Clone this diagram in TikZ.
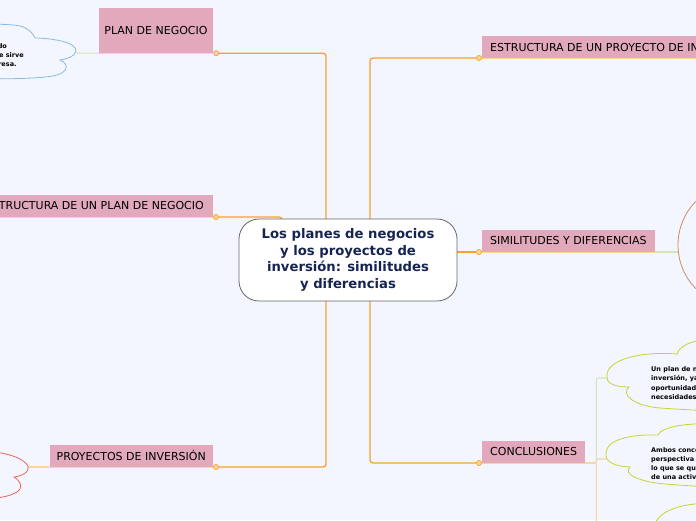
\documentclass[tikz,border=0pt]{standalone}
\usepackage{fontspec}
\setmainfont{DejaVu Sans}
\definecolor{fondo}{RGB}{243,246,254}
\definecolor{rosa}{RGB}{226,169,189}
\definecolor{naranja}{RGB}{248,163,40}
\definecolor{naranjaclaro}{RGB}{252,212,160}
\definecolor{verdeclaro}{RGB}{213,228,185}
\definecolor{azultitulo}{RGB}{22,36,82}
\definecolor{nubeazul}{RGB}{140,185,225}
\definecolor{nuberoja}{RGB}{232,102,90}
\definecolor{nubeverde}{RGB}{196,212,50}
\definecolor{marron}{RGB}{205,140,100}
\pgfdeclarelayer{back}
\pgfsetlayers{back,main}
\begin{document}
\begin{tikzpicture}[x=1pt,y=-1pt,
 tema/.style={fill=rosa,text=black,font=\fontsize{11}{13}\selectfont,inner xsep=8pt,inner ysep=0pt,minimum height=22pt},
 rama/.style={draw=naranja,line width=1.3pt,rounded corners=3pt},
 sub/.style={line width=1.1pt,rounded corners=2pt},
 raya/.style={draw=naranjaclaro,line width=.9pt},
 punto/.style={circle,draw=naranja,fill=naranja!45,line width=.8pt,inner sep=0pt,minimum size=5pt},
 nube/.style={fill=fondo,line width=.8pt},
 nubetexto/.style={font=\bfseries\fontsize{6.5}{9.2}\selectfont,align=left,inner sep=0pt}]
 \useasboundingbox (0,0) rectangle (696,520);
 % idea central
 \node[draw=black!60,fill=white,line width=.8pt,rounded corners=20pt,minimum width=218pt,minimum height=82pt,align=center,text=azultitulo,font=\bfseries\fontsize{13.2}{16.7}\selectfont] (c) at (348,260) {Los planes de negocios\\y los proyectos de\\inversión: similitudes\\y diferencias};
 % temas
 \node[tema,inner xsep=4pt,minimum width=114pt,minimum height=45pt] (pn) at (156,30.5) {PLAN DE NEGOCIO};
 \node[tema,inner xsep=9pt,anchor=south east] (ep) at (213,217) {ESTRUCTURA DE UN PLAN DE NEGOCIO};
 \node[tema,inner xsep=7pt,anchor=south east] (pi) at (213,467) {PROYECTOS DE INVERSIÓN};
 \node[tema,anchor=south west] (epi) at (482,58) {ESTRUCTURA DE UN PROYECTO DE INVERSIÓN};
 \node[tema,anchor=south west] (sd) at (482,252) {SIMILITUDES Y DIFERENCIAS};
 \node[tema,anchor=south west] (co) at (482,463) {CONCLUSIONES};
 \foreach \n in {pn,ep,pi,epi,sd,co} \draw[raya] (\n.south west) -- (\n.south east);
 \foreach \n in {pn,ep,pi} \node[punto] (k\n) at ([xshift=3pt]\n.south east) {};
 \foreach \n in {epi,sd,co} \node[punto] (k\n) at ([xshift=-3pt]\n.south west) {};
 % nubes
 \draw[nube,draw=nubeazul] (35,38) .. controls (50,38) and (77,42) .. (76,51) .. controls (75,57) and (66,59) .. (60,60)
  .. controls (70,64) and (70,75) .. (45,77) .. controls (30,79) and (-60,82) .. (-90,70)
  .. controls (-120,58) and (-110,28) .. (-70,27) .. controls (-40,26) and (0,22) .. (20,26)
  .. controls (28,28) and (33,33) .. (35,38) -- cycle;
 \coordinate (cb) at (76,53);
 \node[nubetexto,anchor=east] (cbt) at (24,56) {Un documento elaborado\\por el emprendedor que sirve\\como guía para la empresa.};
 \draw[nube,draw=nuberoja] (-60,451) .. controls (-20,448) and (20,452) .. (28,466) .. controls (30,472) and (22,476) .. (14,477)
  .. controls (22,482) and (24,490) .. (13,494) .. controls (0,500) and (-40,502) .. (-70,495)
  .. controls (-120,480) and (-110,452) .. (-60,451) -- cycle;
 \coordinate (cr) at (28,467);
 \draw[nube,draw=marron] (735,245) ellipse [x radius=57,y radius=60];
 \coordinate (cm) at (679,252);
 \draw[nube,draw=nubeverde] (607,376) .. controls (606,360) and (640,351) .. (677,354) .. controls (680,343) and (700,338) .. (730,338)
  .. controls (800,340) and (800,408) .. (750,410) .. controls (720,412) and (690,410) .. (660,408)
  .. controls (635,406) and (620,395) .. (629,387) .. controls (612,387) and (606,382) .. (607,376) -- cycle;
 \coordinate (c1) at (607,378);
 \node[nubetexto,anchor=west] (c1t) at (651,383) {Un plan de negocio y un proyecto de\\inversión, ya que ambos buscan\\oportunidades que satisfagan\\necesidades del mercado.};
 \draw[nube,draw=nubeverde] (606,453) .. controls (606,440) and (630,434) .. (658,435) .. controls (662,426) and (690,422) .. (730,424)
  .. controls (800,428) and (800,485) .. (750,487) .. controls (720,488) and (690,486) .. (665,484)
  .. controls (640,482) and (622,474) .. (630,467) .. controls (612,466) and (605,461) .. (606,453) -- cycle;
 \coordinate (c2) at (606,459);
 \node[nubetexto,anchor=west] (c2t) at (651,463.5) {Ambos conceptos comparten la\\perspectiva de analizar\\lo que se quiere lograr a partir\\de una actividad económica.};
 \draw[nube,draw=nubeverde] (652,540) .. controls (650,515) and (670,504) .. (710,503) .. controls (780,503) and (800,560) .. (740,570)
  .. controls (700,575) and (654,565) .. (652,540) -- cycle;
 \coordinate (c3) at (652,540);
 \begin{pgfonlayer}{back}
  \fill[fondo] (0,0) rectangle (696,520);
  \draw[rama] (kpn) -| ([xshift=-22pt]c.center);
  \draw[rama] (kep) -| ([xshift=-66pt]c.center);
  \draw[rama] (kpi) -| ([xshift=-22pt]c.center);
  \draw[rama] (kepi) -| ([xshift=22pt]c.center);
  \draw[rama] (ksd) -- (ksd -| c.east);
  \draw[rama] (kco) -| ([xshift=22pt]c.center);
  \draw[sub,verdeclaro] (pn.south west) -- (cb);
  \draw[sub,naranjaclaro] (pi.south west) -- (cr);
  \draw[sub,verdeclaro] (sd.south east) -- (cm);
  \draw[sub,verdeclaro] (co.south east) -- ++(11,0) |- (c1);
  \draw[sub,naranjaclaro] (co.south east) -- ++(11,0) |- (c2);
  \draw[sub,naranjaclaro] (co.south east) -- ++(11,0) |- (c3);
 \end{pgfonlayer}
\end{tikzpicture}
\end{document}
